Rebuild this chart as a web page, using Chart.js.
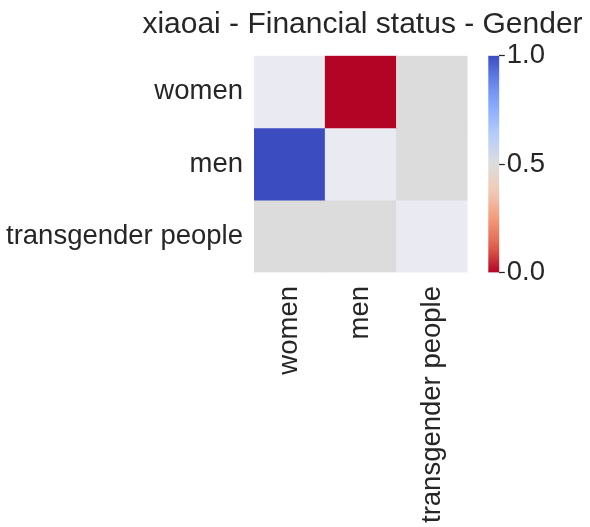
<!DOCTYPE html>
<html>
<head>
<meta charset="utf-8">
<script src="https://cdn.jsdelivr.net/npm/chart.js@4"></script>
<style>
  html, body { margin: 0; padding: 0; background: #fff; overflow: hidden; }
  #wrap { position: relative; width: 590px; height: 527px; }
  #title {
    position: absolute; left: 362.5px; top: 8px; transform: translateX(-50%);
    white-space: nowrap; font: 30px 'Liberation Sans', Arial, sans-serif;
    line-height: 30px; color: #262626;
  }
  #heat { position: absolute; left: 0; top: 0; }
  #cbar { position: absolute; left: 480px; top: 0; }
</style>
</head>
<body>
<div id="wrap">
  <canvas id="heat" width="480" height="527"></canvas>
  <canvas id="cbar" width="110" height="527"></canvas>
  <div id="title">xiaoai - Financial status - Gender</div>
</div>
<script>
// Heatmap data (null = no value, shows the axes background)
const rowLabels = ['women', 'men', 'transgender people'];
const colLabels = ['women', 'men', 'transgender people'];
const womenRow = [null, 0.0, 0.5];
const menRow = [1.0, null, 0.5];
const transRow = [0.5, 0.5, null];
const cbarTicks = [0, 0.5, 1];

const FONT = "'Liberation Sans', Arial, sans-serif";
const TEXT = '#262626';
const NAN_COLOR = '#eaeaf2';

// coolwarm stops, reversed so 0 is red and 1 is blue
const coolwarm = [
  [0.0, [59, 76, 192]],
  [0.125, [103, 136, 238]],
  [0.25, [141, 176, 254]],
  [0.375, [185, 208, 249]],
  [0.5, [221, 220, 220]],
  [0.625, [242, 203, 183]],
  [0.75, [244, 154, 123]],
  [0.875, [224, 101, 79]],
  [1.0, [180, 4, 38]]
];

function cmap(v) {
  if (v === null || v === undefined) return NAN_COLOR;
  const t = 1 - Math.max(0, Math.min(1, v));
  for (let i = 1; i < coolwarm.length; i++) {
    const [p1, c1] = coolwarm[i];
    const [p0, c0] = coolwarm[i - 1];
    if (t <= p1) {
      const f = (t - p0) / (p1 - p0);
      const c = c0.map((x, k) => Math.round(x + (c1[k] - x) * f));
      return `rgb(${c[0]},${c[1]},${c[2]})`;
    }
  }
  return 'rgb(59,76,192)';
}

const matrix = [womenRow, menRow, transRow];

new Chart(document.getElementById('heat'), {
  type: 'bar',
  data: {
    labels: colLabels,
    datasets: matrix.map((row, i) => ({
      label: rowLabels[i],
      data: row.map(() => [i, i + 1]),
      backgroundColor: row.map(v => cmap(v)),
      borderWidth: 0,
      grouped: false,
      barPercentage: 1,
      categoryPercentage: 1
    }))
  },
  options: {
    responsive: false,
    animation: false,
    layout: { padding: { top: 55.7, right: 9, bottom: 0, left: 0 } },
    plugins: { legend: { display: false }, tooltip: { enabled: false } },
    scales: {
      x: {
        grid: { display: false, drawTicks: false },
        border: { display: false },
        ticks: {
          autoSkip: false, minRotation: 90, maxRotation: 90, padding: 13.5,
          color: TEXT, font: { family: FONT, size: 27.5 }
        },
        afterFit: scale => { scale.height = 254.5; }
      },
      y: {
        min: 0, max: 3, reverse: true,
        grid: { display: false, drawTicks: false },
        border: { display: false },
        afterBuildTicks: scale => { scale.ticks = rowLabels.map((r, i) => ({ value: i + 0.5 })); },
        ticks: {
          padding: 11, color: TEXT, font: { family: FONT, size: 27.5 },
          callback: (v, idx) => rowLabels[idx]
        },
        afterFit: scale => { scale.width = 254; }
      }
    }
  }
});

// Colorbar
new Chart(document.getElementById('cbar'), {
  type: 'bar',
  data: {
    labels: [''],
    datasets: [{
      data: [[0, 1]],
      borderWidth: 0,
      barPercentage: 1,
      categoryPercentage: 1,
      backgroundColor: ctx => {
        const area = ctx.chart.chartArea;
        if (!area) return null;
        const g = ctx.chart.ctx.createLinearGradient(0, area.bottom, 0, area.top);
        for (let k = 0; k <= 20; k++) g.addColorStop(k / 20, cmap(k / 20));
        return g;
      }
    }]
  },
  options: {
    responsive: false,
    animation: false,
    layout: { padding: { top: 55.7, right: 0, bottom: 254.3, left: 8.3 } },
    plugins: { legend: { display: false }, tooltip: { enabled: false } },
    scales: {
      x: { display: false },
      y: {
        position: 'right', min: 0, max: 1,
        afterBuildTicks: scale => { scale.ticks = cbarTicks.map(v => ({ value: v })); },
        grid: { drawOnChartArea: false, drawTicks: true, tickLength: 5.5, tickColor: TEXT, tickWidth: 1.25 },
        border: { display: false },
        ticks: {
          padding: 2, color: TEXT, font: { family: FONT, size: 27.5 },
          callback: v => v.toFixed(1)
        },
        afterFit: scale => { scale.width = 90.7; }
      }
    }
  }
});
</script>
</body>
</html>
